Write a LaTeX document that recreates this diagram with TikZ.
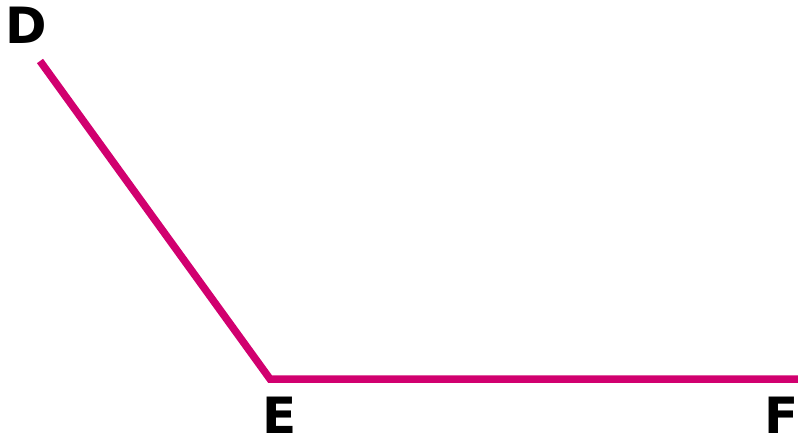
\documentclass[tikz,border=0pt]{standalone}
\usepackage{fontspec}
\setmainfont{DejaVu Sans}
\definecolor{seg}{HTML}{D1006F}
\begin{document}
\begin{tikzpicture}[x=1pt,y=-1pt,
  lbl/.style={font=\bfseries\fontsize{50}{50}\selectfont, anchor=base, inner sep=0pt, text=black},
  segline/.style={draw=seg, line width=7.5pt, line join=miter}]
\useasboundingbox (0,0) rectangle (798,438);
\coordinate (pD) at (40,61);
\coordinate (pE) at (270,379);
\coordinate (pF) at (798,379);
\draw[segline] (pD) -- (pE) -- (pF);
\node[lbl] (lD) at (26,44) {D};
\node[lbl] (lE) at (280,433) {E};
\node[lbl] (lF) at (782,433) {F};
\end{tikzpicture}
\end{document}
